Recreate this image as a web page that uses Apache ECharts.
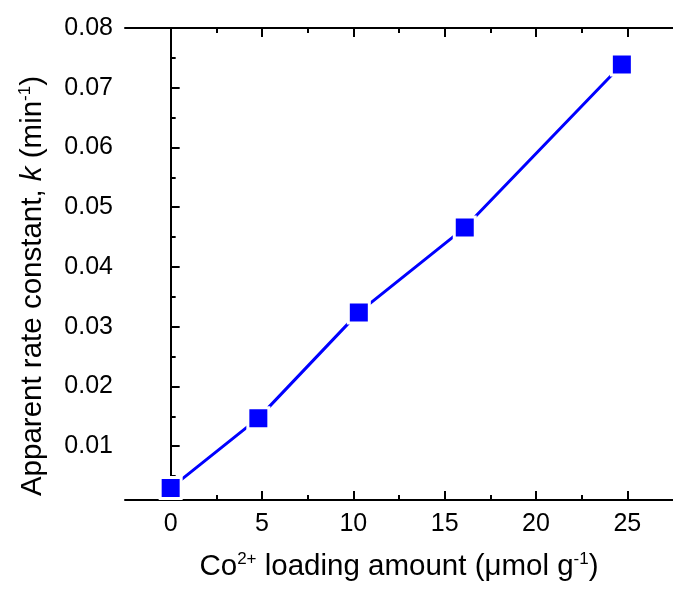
<!DOCTYPE html>
<html>
<head>
<meta charset="utf-8">
<script src="https://cdn.jsdelivr.net/npm/echarts@6/dist/echarts.min.js"></script>
<style>
  html, body { margin: 0; padding: 0; background: #fff; }
  #chart { width: 673px; height: 591px; }
</style>
</head>
<body>
<div id="chart"></div>
<script>
// Co2+ loading vs apparent rate constant
const loading = [0, 4.8, 10.3, 16.1, 24.7]
const rateK = [0.003, 0.0147, 0.0324, 0.0466, 0.0739]
const xMajor = [0, 5, 10, 15, 20, 25]
const xMinor = [2.5, 7.5, 12.5, 17.5, 22.5]
const yMajor = [0.01, 0.02, 0.03, 0.04, 0.05, 0.06, 0.07, 0.08]
const yMinor = [0.005, 0.015, 0.025, 0.035, 0.045, 0.055, 0.065, 0.075]

const font = 'Liberation Sans, Arial, sans-serif'
const black = '#000'
const titleSize = 29.5

const rich = {
  n: { fontFamily: font, fontSize: titleSize, color: black, verticalAlign: 'bottom' },
  i: { fontFamily: font, fontSize: titleSize, color: black, fontStyle: 'italic', verticalAlign: 'bottom' },
  sup: { fontFamily: font, fontSize: 17, color: black, verticalAlign: 'bottom', padding: [0, 0, 14, 0] }
}

const xBase = { type: 'value', min: -2.5, max: 27.5, gridIndex: 0, splitLine: { show: false } }
const yBase = { type: 'value', min: 0.001, max: 0.08, gridIndex: 0, splitLine: { show: false } }

const chart = echarts.init(document.getElementById('chart'))

const option = {
  backgroundColor: '#fff',
  animation: false,
  grid: { left: 125, top: 28, width: 554, height: 472, containLabel: false },
  xAxis: [
    Object.assign({}, xBase, {
      position: 'bottom',
      name: '{n|Co}{sup|2+}{n| loading amount (μmol g}{sup|-1}{n|)}',
      nameLocation: 'middle',
      nameGap: 51,
      nameTextStyle: { fontFamily: font, fontSize: titleSize, color: black, rich: rich },
      axisLine: { lineStyle: { color: black, width: 2 } },
      axisTick: { inside: true, length: 9, lineStyle: { width: 2, color: black }, customValues: xMajor },
      axisLabel: { fontFamily: font, fontSize: 25, color: black, margin: 12, customValues: xMajor }
    }),
    Object.assign({}, xBase, {
      position: 'bottom',
      axisLine: { show: false },
      axisTick: { inside: true, length: 5, lineStyle: { width: 2, color: black }, customValues: xMinor },
      axisLabel: { show: false }
    }),
    Object.assign({}, xBase, {
      position: 'top',
      axisLine: { lineStyle: { color: black, width: 2 } },
      axisTick: { inside: true, length: 9, lineStyle: { width: 2, color: black }, customValues: xMajor },
      axisLabel: { show: false }
    }),
    Object.assign({}, xBase, {
      position: 'top',
      axisLine: { show: false },
      axisTick: { inside: true, length: 5, lineStyle: { width: 2, color: black }, customValues: xMinor },
      axisLabel: { show: false }
    })
  ],
  yAxis: [
    Object.assign({}, yBase, {
      position: 'left',
      name: '{n|Apparent rate constant, }{i|k}{n| (min}{sup|-1}{n|)}',
      nameLocation: 'middle',
      nameGap: 77,
      nameTextStyle: { fontFamily: font, fontSize: titleSize, color: black, rich: rich, padding: [0, 44, 0, 0] },
      axisLine: { lineStyle: { color: black, width: 2 } },
      axisTick: { inside: true, length: 9, lineStyle: { width: 2, color: black }, customValues: yMajor },
      axisLabel: { fontFamily: font, fontSize: 25, color: black, margin: 12, customValues: yMajor }
    }),
    Object.assign({}, yBase, {
      position: 'left',
      axisLine: { show: false },
      axisTick: { inside: true, length: 5, lineStyle: { width: 2, color: black }, customValues: yMinor },
      axisLabel: { show: false }
    })
  ],
  series: [{
    type: 'line',
    xAxisIndex: 0,
    yAxisIndex: 0,
    data: loading.map((x, i) => [x, rateK[i]]),
    symbol: 'rect',
    symbolSize: 21,
    itemStyle: { color: '#0000ff', borderColor: '#fff', borderWidth: 3 },
    lineStyle: { color: '#0000ff', width: 3 }
  }]
}

chart.setOption(option)
</script>
</body>
</html>
